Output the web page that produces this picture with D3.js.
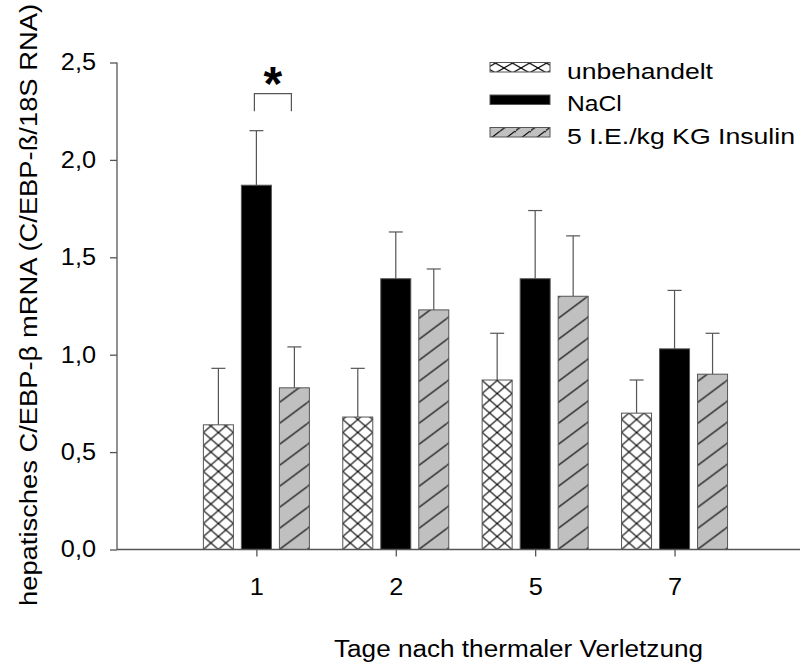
<!DOCTYPE html>
<html>
<head>
<meta charset="utf-8">
<script src="https://cdn.jsdelivr.net/npm/d3@7"></script>
<style>
  html, body { margin: 0; padding: 0; background: #fff; }
  svg { display: block; font-family: "Liberation Sans", Arial, sans-serif; }
</style>
</head>
<body>
<svg id="chart" width="803" height="665"></svg>
<script>
// Tage nach thermaler Verletzung
const days = ["1", "2", "5", "7"];
const groups = ["unbehandelt", "NaCl", "5 I.E./kg KG Insulin"];

// Mittelwerte und Standardabweichung je Gruppe
const unbehandelt    = [0.64, 0.68, 0.87, 0.70];
const unbehandeltErr = [0.29, 0.25, 0.24, 0.17];
const nacl           = [1.87, 1.39, 1.39, 1.03];
const naclErr        = [0.28, 0.24, 0.35, 0.30];
const insulin        = [0.83, 1.23, 1.30, 0.90];
const insulinErr     = [0.21, 0.21, 0.31, 0.21];

const yTicks = [0, 0.5, 1.0, 1.5, 2.0, 2.5];

// Signifikanz: Tag 1, NaCl vs. Insulin
const sigDay = 0;
const sigFrom = 1, sigTo = 2;
const sigTop = 2.34, sigLeg = 2.25;

// Füllarten: Kreuzschraffur, schwarz, grau mit Schrägstrichen
const series = [
  { name: groups[0], values: unbehandelt, err: unbehandeltErr, kind: "cross" },
  { name: groups[1], values: nacl, err: naclErr, kind: "solid" },
  { name: groups[2], values: insulin, err: insulinErr, kind: "diag" }
];

const svg = d3.select("#chart");
const FONT = 23;
const STRETCH = 1.1;
const axisColor = "#555";
const edge = "#555";

const x = d3.scaleLinear().domain([0, 4.9]).range([117, 800]);
const y = d3.scaleLinear().domain([0, 2.5]).range([549.5, 62.5]);
const barW = 30, pitch = 38;
const offset = i => (i - 1) * pitch;

const defs = svg.append("defs");

// Muster, am linken/unteren Rand der Fläche ausgerichtet
function makePattern(id, kind, ox, oy, w, h) {
  if (kind === "solid") return "#000";
  const p = defs.append("pattern").attr("id", id)
    .attr("patternUnits", "userSpaceOnUse")
    .attr("x", ox).attr("y", oy).attr("width", w).attr("height", h);
  p.append("rect").attr("width", w).attr("height", h)
    .attr("fill", kind === "cross" ? "#fff" : "#c0c0c0");
  const d = kind === "cross"
    ? `M0,0L${w},${h}M0,${h}L${w},0`
    : `M0,${h}L${w},0M${-w},${h}L0,0M${w},${h}L${2 * w},0`;
  p.append("path").attr("d", d)
    .attr("stroke", "#000").attr("stroke-width", 1.1).attr("fill", "none");
  return `url(#${id})`;
}

const comma = d3.formatLocale({ decimal: ",", thousands: ".", grouping: [3], currency: ["", "€"] }).format(".1f");

// Text horizontal strecken
function widen(sel, factor) {
  sel.each(function () {
    const w = this.getComputedTextLength();
    d3.select(this).attr("textLength", w * factor).attr("lengthAdjust", "spacingAndGlyphs");
  });
}

// Balken
series.forEach((s, i) => {
  const g = svg.append("g");
  const left = j => x(j + 1) + offset(i) - barW / 2;
  g.selectAll("rect").data(s.values).join("rect")
    .attr("x", (d, j) => left(j))
    .attr("y", d => y(d))
    .attr("width", barW)
    .attr("height", d => y(0) - y(d))
    .attr("fill", (d, j) => makePattern(`bar-${i}-${j}`, s.kind, left(j), y(0),
      s.kind === "cross" ? 15 : 28, s.kind === "cross" ? 13 : 21))
    .attr("stroke", edge)
    .attr("stroke-width", 1);

  // Fehlerbalken (nur nach oben)
  const eb = g.selectAll("g.err").data(s.values).join("g").attr("class", "err");
  eb.append("line")
    .attr("x1", (d, j) => x(j + 1) + offset(i))
    .attr("x2", (d, j) => x(j + 1) + offset(i))
    .attr("y1", d => y(d))
    .attr("y2", (d, j) => y(d + s.err[j]))
    .attr("stroke", edge).attr("stroke-width", 1.2);
  eb.append("line")
    .attr("x1", (d, j) => x(j + 1) + offset(i) - 7)
    .attr("x2", (d, j) => x(j + 1) + offset(i) + 7)
    .attr("y1", (d, j) => y(d + s.err[j]))
    .attr("y2", (d, j) => y(d + s.err[j]))
    .attr("stroke", edge).attr("stroke-width", 1.2);
});

// Achsen
const yAxis = svg.append("g").attr("transform", `translate(${x(0)},0)`)
  .call(d3.axisLeft(y).tickValues(yTicks).tickFormat(comma).tickSize(7).tickPadding(14));
const xAxis = svg.append("g").attr("transform", `translate(0,${y(0)})`)
  .call(d3.axisBottom(x).tickValues(days.map((d, i) => i + 1)).tickFormat((d, i) => days[i]).tickSize(7).tickPadding(22));

[yAxis, xAxis].forEach(a => {
  a.select(".domain").attr("stroke", axisColor).attr("stroke-width", 1.3);
  a.selectAll(".tick line").attr("stroke", axisColor).attr("stroke-width", 1.3);
  a.selectAll("text").attr("font-size", FONT).attr("fill", "#000")
    .attr("font-family", "Liberation Sans, Arial, sans-serif");
});
yAxis.select(".domain").attr("d", `M-0,${y(2.5)}V${y(0)}`);
xAxis.select(".domain").attr("d", `M${x(0)},0H${x(4.9)}`);
widen(yAxis.selectAll(".tick text"), STRETCH);
widen(xAxis.selectAll(".tick text"), STRETCH);

// Achsentitel
svg.append("text")
  .attr("x", 518.5).attr("y", 657)
  .attr("text-anchor", "middle").attr("font-size", FONT)
  .attr("textLength", 369).attr("lengthAdjust", "spacingAndGlyphs")
  .text("Tage nach thermaler Verletzung");

svg.append("text")
  .attr("transform", "translate(37,305) rotate(-90)")
  .attr("text-anchor", "middle").attr("font-size", FONT)
  .attr("textLength", 602).attr("lengthAdjust", "spacingAndGlyphs")
  .text("hepatisches C/EBP-\u03b2 mRNA (C/EBP-\u00df/18S RNA)");

// Signifikanzklammer
const bx1 = x(sigDay + 1) + offset(sigFrom) - 2;
const bx2 = x(sigDay + 1) + offset(sigTo) - 3;
svg.append("path")
  .attr("d", `M${bx1},${y(sigLeg)}V${y(sigTop)}H${bx2}V${y(sigLeg)}`)
  .attr("fill", "none").attr("stroke", edge).attr("stroke-width", 1.2);
svg.append("text")
  .attr("x", (bx1 + bx2) / 2).attr("y", 100)
  .attr("text-anchor", "middle").attr("font-size", 48).attr("font-weight", "bold")
  .text("*");

// Legende
const legendX = 490, legendY = 62.5, legendStep = 32.5;
const legend = svg.append("g");
const rows = legend.selectAll("g").data(series).join("g")
  .attr("transform", (d, i) => `translate(${legendX},${legendY + i * legendStep})`);
rows.append("rect")
  .attr("width", 60).attr("height", 9.5)
  .attr("fill", (d, i) => makePattern(`leg-${i}`, d.kind, legendX, legendY + i * legendStep,
    d.kind === "cross" ? 17 : 15, d.kind === "cross" ? 9.5 : 11.25))
  .attr("stroke", edge).attr("stroke-width", 1);
const legendWidths = [146, 54.7, 228];
rows.append("text")
  .attr("x", 77).attr("y", 16)
  .attr("font-size", 22)
  .attr("textLength", (d, i) => legendWidths[i]).attr("lengthAdjust", "spacingAndGlyphs")
  .text(d => d.name);
</script>
</body>
</html>
